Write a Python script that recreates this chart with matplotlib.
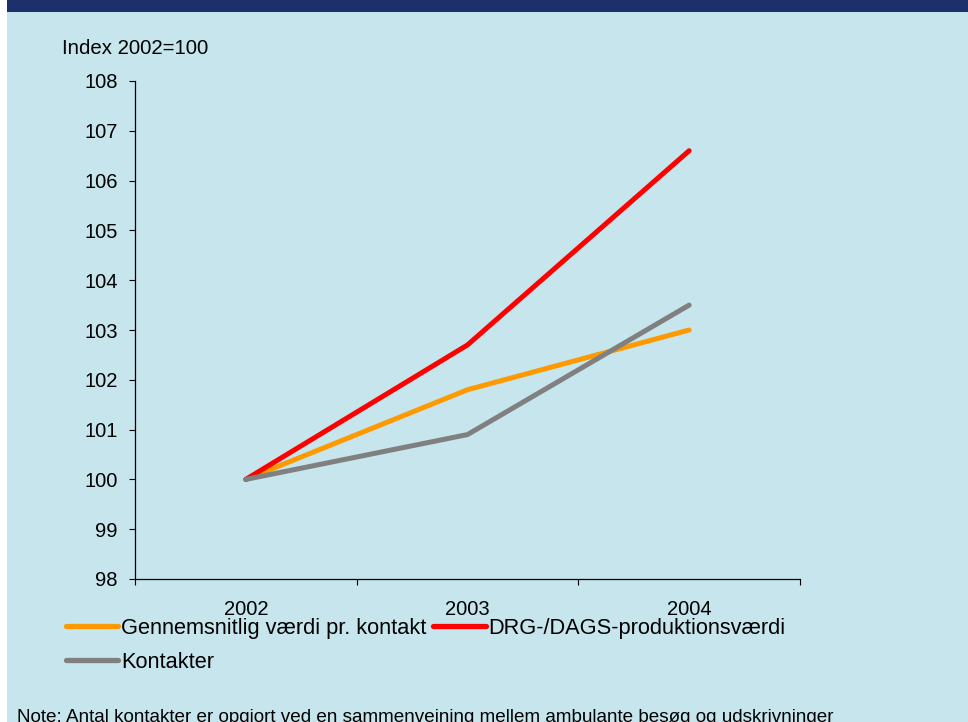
import matplotlib
matplotlib.use("Agg")
from matplotlib import pyplot
from matplotlib.patches import Rectangle

years = ["2002", "2003", "2004"]
gennemsnit = [100, 101.8, 103.0]
drg_dags = [100, 102.7, 106.6]
kontakter = [100, 100.9, 103.5]
series_names = ["Gennemsnitlig værdi pr. kontakt", "DRG-/DAGS-produktionsværdi", "Kontakter"]
y_ticks = list(range(98, 109))

pyplot.rcParams["font.family"] = ["Liberation Sans", "DejaVu Sans"]

W, H = 968, 722
fig = pyplot.figure(figsize=(W / 100, H / 100), dpi=100, facecolor="white")

# background panels
fig.patches.append(Rectangle((7 / W, 0), 1 - 7 / W, 1 - 12 / H, transform=fig.transFigure,
                             facecolor="#C6E5EC", edgecolor="none", zorder=-10))
fig.patches.append(Rectangle((7 / W, 1 - 12 / H), 1 - 7 / W, 12 / H, transform=fig.transFigure,
                             facecolor="#1E306B", edgecolor="none", zorder=-10))

ax = fig.add_axes([135 / W, 1 - 579 / H, (800 - 135) / W, (579 - 81) / H])
ax.set_facecolor("none")

x = range(len(years))
l1, = ax.plot(x, gennemsnit, color="#FF9900", lw=3.6, solid_capstyle="round", label=series_names[0], zorder=3)
l2, = ax.plot(x, drg_dags, color="#FF0000", lw=3.6, solid_capstyle="round", label=series_names[1], zorder=4)
l3, = ax.plot(x, kontakter, color="#808080", lw=3.6, solid_capstyle="round", label=series_names[2], zorder=5)

ax.set_xlim(-0.5, len(years) - 0.5)
ax.set_ylim(98, 108)
ax.set_yticks(y_ticks)
ax.set_yticklabels([str(v) for v in y_ticks])
ax.set_xticks([i - 0.5 for i in range(len(years) + 1)])
ax.set_xticklabels([])
ax.set_xticks(list(x), minor=True)
ax.set_xticklabels(years, minor=True)

ax.tick_params(axis="y", direction="out", length=4.3, width=0.8, pad=8, labelsize=14.5)
ax.tick_params(axis="x", which="major", direction="out", length=4.3, width=0.8)
ax.tick_params(axis="x", which="minor", length=0, pad=15, labelsize=14.5)

for side in ["top", "right"]:
    ax.spines[side].set_visible(False)
for side in ["left", "bottom"]:
    ax.spines[side].set_linewidth(0.9)
    ax.spines[side].set_color("black")

fig.text(62 / W, 1 - 48 / H, "Index 2002=100", fontsize=14.7, va="center", ha="left")

# order so that rows read: orange, red / gray
leg = fig.legend([l1, l3, l2], [series_names[0], series_names[2], series_names[1]],
                 loc="upper left", bbox_to_anchor=(66 / W, 1 - 618 / H), ncol=2, frameon=False,
                 fontsize=15.7, handlelength=2.4, handletextpad=0.14, columnspacing=0.3,
                 labelspacing=0.6, borderpad=0, borderaxespad=0)
for line in leg.get_lines():
    line.set_linewidth(3.8)

fig.text(17 / W, 1 - 709 / H,
         "Note: Antal kontakter er opgjort ved en sammenvejning mellem ambulante besøg og udskrivninger",
         fontsize=13.6, va="top", ha="left")

fig.savefig("out.png", dpi=100, facecolor=fig.get_facecolor())
